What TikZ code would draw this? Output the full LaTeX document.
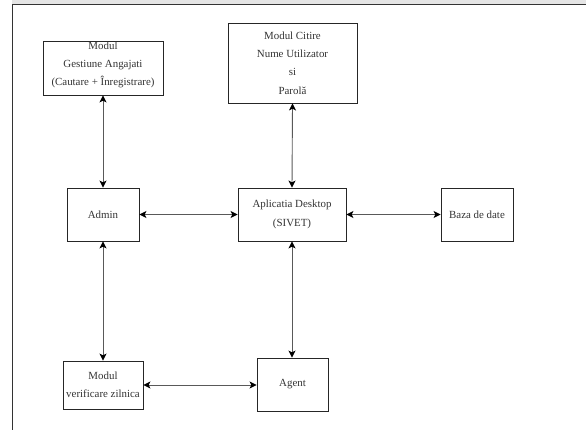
\documentclass[tikz,border=0pt]{standalone}
\usepackage{fontspec}
\setmainfont{Liberation Serif}
\usetikzlibrary{arrows.meta}
\begin{document}
\begin{tikzpicture}[x=1pt,y=1pt,
  txt/.style={font=\fontsize{10.9}{18.3}\selectfont, text=black!80},
  box/.style={draw=black!85, line width=0.9pt, align=center, inner sep=0pt, txt},
  tip/.style={Stealth[length=7pt,width=7pt,inset=1.8pt,black]},
  link/.style={draw=black!65, line width=0.9pt, {Stealth[length=7pt,width=7pt,inset=1.8pt,black]}-{Stealth[length=7pt,width=7pt,inset=1.8pt,black]}}]
\useasboundingbox (0,0) rectangle (586,-430);
% page frame
\fill[black!10] (12,0) rectangle (586,-4);
\draw[black!80, line width=1.3pt] (12.7,-430) -- (12.7,-4.7) -- (586,-4.7);
% nodes
\node[box, minimum width=120pt, minimum height=54pt,
  label={[align=center, txt, yshift=3pt]center:Modul\\Gestiune Angajati\\(Cautare + Înregistrare)}]
  (gest) at (103,-68) {};
\node[box, minimum width=129pt, minimum height=80pt] (citire) at (292.5,-63)
  {Modul Citire\\Nume Utilizator\\si\\Parolă};
\node[box, minimum width=72pt, minimum height=53pt] (admin) at (103,-214.5) {Admin};
\node[box, minimum width=108pt, minimum height=53pt] (app) at (292,-214.5) {Aplicatia Desktop\\(SIVET)};
\node[box, minimum width=72pt, minimum height=53pt] (baza) at (477,-214.5) {Baza de date};
\node[box, minimum width=80pt, minimum height=48pt] (verif) at (103,-385) {Modul\\verificare zilnica};
\node[box, minimum width=71pt, minimum height=53pt] (agent) at (292.5,-384.5) {Agent};
% connectors
\draw[link] (gest.south) -- (admin.north);
\draw[link] (citire.south) -- (app.north);
\draw[link] (admin.east) -- (app.west);
\draw[link] (app.east) -- (baza.west);
\draw[link] (admin.south) -- (verif.north);
\draw[link] (app.south) -- (app.south |- agent.north);
\draw[link] (verif.east) -- (verif.east -| agent.west);
\end{tikzpicture}
\end{document}
